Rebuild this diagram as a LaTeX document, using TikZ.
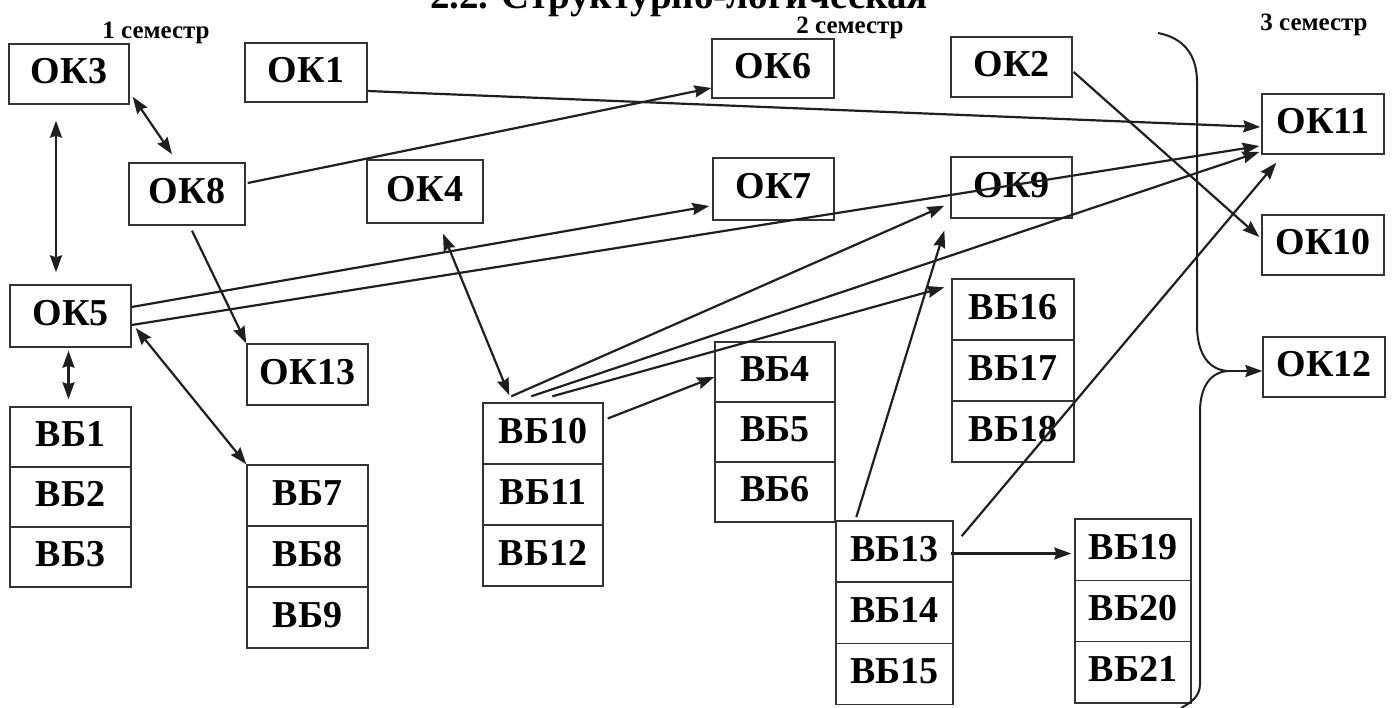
\documentclass[tikz,border=0pt]{standalone}
\usepackage{fontspec}
\setmainfont{Liberation Serif}
\usetikzlibrary{arrows.meta,calc}
\begin{document}
\begin{tikzpicture}[x=1pt,y=-1pt,
  bx/.style={draw=black!80, line width=1.4pt, inner sep=0pt,
    font=\bfseries\fontsize{38}{40}\selectfont, text height=25pt, text depth=6pt,
    minimum width=121pt, minimum height=61pt},
  sem/.style={font=\bfseries\fontsize{25}{27}\selectfont, inner sep=0pt, anchor=base},
  conn/.style={draw=black!88, line width=2.2pt},
  arr/.style={conn, -{Stealth[length=17pt,width=12pt,inset=2pt]}},
  darr/.style={conn, {Stealth[length=17pt,width=12pt,inset=2pt]}-{Stealth[length=17pt,width=12pt,inset=2pt]}},
  curve/.style={draw=black!88, line width=2pt}
]
\useasboundingbox (0,0) rectangle (1394,707);
\fill[white] (0,0) rectangle (1394,707);

% title (cut at the top edge) and semester labels
\node[anchor=base west, font=\bfseries\fontsize{39}{41}\selectfont, inner sep=0pt] (title) at (430,8) {2.2. Структурно-логическая};
\node[sem] (s1) at (156,38) {1 семестр};
\node[sem] (s2) at (850,33) {2 семестр};
\node[sem] (s3) at (1314,30) {3 семестр};

% OK boxes
\node[bx, minimum width=120pt, minimum height=60pt] (ok3) at (69,74) {ОК3};
\node[bx, minimum width=122pt, minimum height=59pt] (ok1) at (306,72.5) {ОК1};
\node[bx, minimum width=116pt, minimum height=62pt] (ok8) at (187,194) {ОК8};
\node[bx, minimum width=116pt, minimum height=63pt] (ok4) at (425,191.5) {ОК4};
\node[bx, minimum width=122pt, minimum height=59pt] (ok6) at (773,68.5) {ОК6};
\node[bx, minimum width=121pt, minimum height=62pt] (ok7) at (773.5,189) {ОК7};
\node[bx, minimum width=121pt, minimum height=60pt] (ok2) at (1011.5,67) {ОК2};
\node[bx, minimum width=121pt, minimum height=61pt] (ok9) at (1011.5,187.5) {ОК9};
\node[bx, minimum width=122pt, minimum height=60pt] (ok11) at (1323,124) {ОК11};
\node[bx, minimum width=122pt, minimum height=60pt] (ok10) at (1323,245) {ОК10};
\node[bx, minimum width=122pt, minimum height=60pt] (ok12) at (1324,367) {ОК12};
\node[bx, minimum width=121pt, minimum height=62pt] (ok5) at (70.5,316) {ОК5};
\node[bx, minimum width=121pt, minimum height=61pt] (ok13) at (307.5,374.5) {ОК13};

% VB stacks
\node[bx, minimum height=60pt] (bb1) at (70.5,437) {ВБ1};
\node[bx, minimum height=60pt] (bb2) at (70.5,497) {ВБ2};
\node[bx, minimum height=60pt] (bb3) at (70.5,557) {ВБ3};

\node[bx] (bb7) at (307.5,495.5) {ВБ7};
\node[bx] (bb8) at (307.5,556.5) {ВБ8};
\node[bx] (bb9) at (307.5,617.5) {ВБ9};

\node[bx, minimum width=120pt] (bb10) at (543,433.5) {ВБ10};
\node[bx, minimum width=120pt] (bb11) at (543,494.5) {ВБ11};
\node[bx, minimum width=120pt] (bb12) at (543,555.5) {ВБ12};

\node[bx, minimum width=120pt, minimum height=60pt] (bb4) at (775,372) {ВБ4};
\node[bx, minimum width=120pt, minimum height=60pt] (bb5) at (775,432) {ВБ5};
\node[bx, minimum width=120pt, minimum height=60pt] (bb6) at (775,492) {ВБ6};

\node[bx, minimum width=122pt] (bb16) at (1013,309.5) {ВБ16};
\node[bx, minimum width=122pt] (bb17) at (1013,370.5) {ВБ17};
\node[bx, minimum width=122pt] (bb18) at (1013,431.5) {ВБ18};

\node[bx, minimum width=117pt, minimum height=61.3pt] (bb13) at (894.5,551.5) {ВБ13};
\node[bx, minimum width=117pt, minimum height=61.3pt] (bb14) at (894.5,612.8) {ВБ14};
\node[bx, minimum width=117pt, minimum height=61.3pt] (bb15) at (894.5,674.1) {ВБ15};

\node[bx, minimum width=116pt, minimum height=61.3pt] (bb19) at (1133,549.7) {ВБ19};
\node[bx, minimum width=116pt, minimum height=61.3pt] (bb20) at (1133,611) {ВБ20};
\node[bx, minimum width=116pt, minimum height=61.3pt] (bb21) at (1133,672.3) {ВБ21};

% connectors
\draw[arr] ([shift={(0,18.5)}]ok1.east) -- ([shift={(-1,3)}]ok11.west);
\draw[arr] ([shift={(2,-11)}]ok8.east) -- ([shift={(0,19.5)}]ok6.west);
\draw[darr] ([shift={(3,-8)}]ok3.south east) -- ([shift={(-15,-8)}]ok8.north);
\draw[darr] ([shift={(-13,16)}]ok3.south) -- ([shift={(-14.5,-12)}]ok5.north);
\draw[darr] ([shift={(-2,3)}]ok5.south) -- ([shift={(-2,-7)}]bb1.north);
\draw[darr] ([shift={(4,12)}]ok5.east) -- (bb7.north west);
\draw[arr] ([shift={(5,5)}]ok8.south) -- (ok13.north west);
\draw[darr] ([shift={(18,10)}]ok4.south) -- ([shift={(27,-7)}]bb10.north west);
\draw[arr] ([shift={(0,-9)}]ok5.east) -- ([shift={(-3,17)}]ok7.west);
\draw[arr] ([shift={(0,9)}]ok5.east) -- ([shift={(-2,22)}]ok11.west);
\draw[arr] ([shift={(29,-6)}]bb10.north west) -- ([shift={(-6,-13)}]ok9.south west);
\draw[arr] ([shift={(49,-6)}]bb10.north west) -- ([shift={(-2,28)}]ok11.west);
\draw[arr] ([shift={(70,-6)}]bb10.north west) -- ([shift={(-7,9)}]bb16.north west);
\draw[arr] ([shift={(4,-15)}]bb10.east) -- ([shift={(0,5)}]bb4.west);
\draw[arr] ([shift={(21,-3)}]bb13.north west) -- ([shift={(-6,12)}]ok9.south west);
\draw[arr] ([shift={(8,16)}]bb13.north east) -- ([shift={(15,8)}]ok11.south west);
\draw[arr] ([shift={(-3,2)}]bb13.east) -- ([shift={(-3,2)}]bb13.east -| bb19.west);
\draw[arr] ([shift={(1,5)}]ok2.east) -- ([shift={(-2,-8)}]ok10.west);

% brace
\coordinate (btop) at (1158,33);
\coordinate (tip) at (1228,371);
\coordinate (bbot) at (1181,708);
\draw[curve] (btop) .. controls (1184,38) and (1197,55) .. (1197,82) -- (1197,328)
  .. controls (1198,356) and (1210,370) .. (tip)
  .. controls (1211,372) and (1200,386) .. (1200,412) -- (1200,684)
  .. controls (1200,696) and (1192,702) .. (bbot);
\draw[arr] (tip) -- ([shift={(0,4)}]ok12.west);
\end{tikzpicture}
\end{document}
